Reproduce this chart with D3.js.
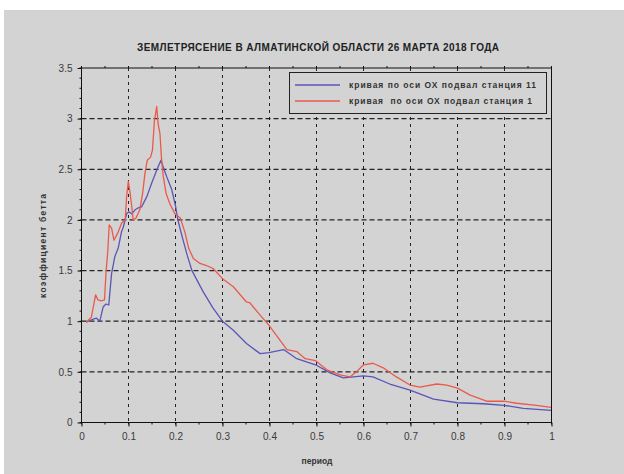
<!DOCTYPE html>
<html>
<head>
<meta charset="utf-8">
<script src="https://cdn.jsdelivr.net/npm/d3@7/dist/d3.min.js"></script>
<style>
  html, body { margin: 0; padding: 0; background: #ffffff; }
  svg { display: block; }
  text { font-family: "Liberation Sans", Arial, sans-serif; }
</style>
</head>
<body>
<svg id="chart" width="624" height="474"></svg>
<script>
// Station 11 (basement, OX axis): period and beta coefficient
const periodStation11 = [0.01,0.025,0.032,0.039,0.046,0.052,0.058,0.064,0.071,0.078,
  0.085,0.089,0.096,0.101,0.107,0.114,0.121,0.128,0.139,0.149,
  0.16,0.169,0.174,0.181,0.192,0.2,0.205,0.215,0.225,0.235,
  0.259,0.28,0.3,0.323,0.351,0.38,0.399,0.43,0.458,0.498,
  0.529,0.557,0.6,0.62,0.656,0.699,0.749,0.8,0.855,0.899,
  0.94,0.999];
const betaStation11 = [0.99,1.02,1.03,1.0,1.14,1.17,1.16,1.47,1.64,1.72,
  1.88,1.93,2.06,2.08,2.06,2.1,2.12,2.13,2.23,2.36,
  2.49,2.59,2.52,2.43,2.3,2.14,2.0,1.82,1.65,1.5,
  1.29,1.13,1.0,0.91,0.78,0.68,0.69,0.72,0.63,0.57,
  0.49,0.44,0.46,0.45,0.38,0.32,0.23,0.195,0.185,0.17,
  0.14,0.12];

// Station 1 (basement, OX axis)
const periodStation1 = [0.01,0.021,0.03,0.035,0.042,0.049,0.052,0.056,0.059,0.064,
  0.069,0.078,0.0855,0.093,0.096,0.0996,0.103,0.107,0.11,0.116,
  0.124,0.13,0.135,0.14,0.147,0.151,0.155,0.16,0.163,0.167,
  0.17,0.174,0.18,0.188,0.199,0.21,0.22,0.228,0.238,0.252,
  0.266,0.28,0.3,0.323,0.351,0.3585,0.38,0.399,0.437,0.458,
  0.476,0.498,0.522,0.55,0.571,0.585,0.6,0.62,0.642,0.67,
  0.699,0.72,0.756,0.777,0.8,0.827,0.862,0.899,0.926,0.968,
  0.999];
const betaStation1 = [0.99,1.04,1.26,1.21,1.2,1.21,1.47,1.7,1.95,1.92,
  1.8,1.88,1.97,2.0,2.23,2.38,2.28,2.13,2.0,2.02,
  2.1,2.26,2.46,2.59,2.62,2.69,2.97,3.12,2.95,2.85,
  2.62,2.43,2.26,2.16,2.06,2.02,1.88,1.72,1.62,1.57,
  1.55,1.52,1.42,1.34,1.19,1.18,1.06,0.96,0.72,0.7,
  0.63,0.61,0.52,0.47,0.45,0.5,0.57,0.585,0.54,0.45,
  0.37,0.35,0.38,0.37,0.34,0.27,0.21,0.21,0.19,0.17,
  0.15];

const xTicks = [0,0.1,0.2,0.3,0.4,0.5,0.6,0.7,0.8,0.9,1];
const yTicks = [0,0.5,1,1.5,2,2.5,3,3.5];
const xTickLabels = ["0","0.1","0.2","0.3","0.4","0.5","0.6","0.7","0.8","0.9","1"];
const yTickLabels = ["0","0.5","1","1.5","2","2.5","3","3.5"];

const titleText = "ЗЕМЛЕТРЯСЕНИЕ В АЛМАТИНСКОЙ ОБЛАСТИ 26 МАРТА 2018 ГОДА";
const xLabel = "период";
const yLabel = "коэффициент бетта";
const seriesNames = ["кривая по оси ОХ подвал станция 11", "кривая  по оси ОХ подвал станция 1"];
const seriesColors = ["#5a55b8", "#ea5a4c"];

const svg = d3.select("#chart");
const W = 624, H = 474;
const plot = { left: 81.5, right: 551.5, top: 68, bottom: 422.5 };
const bg = "#d3d3d3";

svg.append("rect").attr("x", 0).attr("y", 0).attr("width", W).attr("height", H).attr("fill", "#ffffff");
svg.append("rect").attr("x", 4).attr("y", 10).attr("width", W - 4).attr("height", H - 10).attr("fill", bg);

const x = d3.scaleLinear().domain([0, 1]).range([plot.left, plot.right]);
const y = d3.scaleLinear().domain([0, 3.5]).range([plot.bottom, plot.top]);

// grid
const grid = svg.append("g");
grid.selectAll("line.v").data(xTicks.filter(t => t > 0 && t < 1)).join("line")
  .attr("x1", d => x(d)).attr("x2", d => x(d))
  .attr("y1", plot.top).attr("y2", plot.bottom)
  .attr("stroke", "#222").attr("stroke-width", 1).attr("stroke-dasharray", "3,4");
grid.selectAll("line.h").data(yTicks.filter(t => t > 0 && t < 3.5)).join("line")
  .attr("x1", plot.left).attr("x2", plot.right)
  .attr("y1", d => y(d)).attr("y2", d => y(d))
  .attr("stroke", "#222").attr("stroke-width", 1.2).attr("stroke-dasharray", "5,3");

// curves
const line = d3.line().x(d => x(d[0])).y(d => y(d[1]));
const s11 = periodStation11.map((p, i) => [p, betaStation11[i]]);
const s1 = periodStation1.map((p, i) => [p, betaStation1[i]]);
svg.append("path").datum(s11).attr("d", line).attr("fill", "none")
  .attr("stroke", seriesColors[0]).attr("stroke-width", 1.3).attr("stroke-linejoin", "round");
svg.append("path").datum(s1).attr("d", line).attr("fill", "none")
  .attr("stroke", seriesColors[1]).attr("stroke-width", 1.3).attr("stroke-linejoin", "round");

// axes
const xMinor = d3.range(0, 1.0001, 0.05);
const yMinor = d3.range(0, 3.5001, 0.1);
const xAxis = d3.axisBottom(x).tickValues(xTicks).tickFormat((d, i) => xTickLabels[i]).tickSize(4).tickPadding(6);
const yAxis = d3.axisLeft(y).tickValues(yTicks).tickFormat((d, i) => yTickLabels[i]).tickSize(4).tickPadding(5);

const gx = svg.append("g").attr("transform", `translate(0,${plot.bottom})`).call(xAxis);
const gy = svg.append("g").attr("transform", `translate(${plot.left},0)`).call(yAxis);
[gx, gy].forEach(g => {
  g.select(".domain").remove();
  g.selectAll(".tick line").attr("stroke", "#111");
  g.selectAll(".tick text").attr("fill", "#3a3a3a").attr("font-size", 10);
});

svg.append("g").selectAll("line").data(xMinor).join("line")
  .attr("x1", d => x(d)).attr("x2", d => x(d))
  .attr("y1", plot.bottom).attr("y2", plot.bottom + 2).attr("stroke", "#111");
svg.append("g").selectAll("line").data(yMinor).join("line")
  .attr("x1", plot.left - 2).attr("x2", plot.left)
  .attr("y1", d => y(d)).attr("y2", d => y(d)).attr("stroke", "#111");
svg.append("g").selectAll("line").data(xMinor).join("line")
  .attr("x1", d => x(d)).attr("x2", d => x(d))
  .attr("y1", plot.top - 2).attr("y2", plot.top).attr("stroke", "#111");

// frame
svg.append("rect").attr("x", plot.left).attr("y", plot.top)
  .attr("width", plot.right - plot.left).attr("height", plot.bottom - plot.top)
  .attr("fill", "none").attr("stroke", "#111").attr("stroke-width", 1);

// title and axis labels
svg.append("text").attr("x", 318).attr("y", 51).attr("text-anchor", "middle")
  .attr("font-size", 10).attr("font-weight", "bold").attr("fill", "#222")
  .attr("textLength", 362).attr("lengthAdjust", "spacing").text(titleText);
svg.append("text").attr("x", 317).attr("y", 464).attr("text-anchor", "middle")
  .attr("font-size", 8.5).attr("font-weight", "bold").attr("fill", "#333").text(xLabel);
svg.append("text").attr("transform", "translate(46,246) rotate(-90)").attr("text-anchor", "middle")
  .attr("font-size", 8.5).attr("font-weight", "bold").attr("fill", "#333")
  .attr("textLength", 104).attr("lengthAdjust", "spacing").text(yLabel);

// legend
const legendTextWidths = [187, 183];
const lg = svg.append("g");
lg.append("rect").attr("x", 289.5).attr("y", 72.5).attr("width", 257).attr("height", 41)
  .attr("fill", bg).attr("stroke", "#222").attr("stroke-width", 1);
seriesNames.forEach((name, i) => {
  const ly = 85 + i * 16;
  lg.append("line").attr("x1", 295).attr("x2", 340).attr("y1", ly).attr("y2", ly)
    .attr("stroke", seriesColors[i]).attr("stroke-width", 1.3);
  lg.append("text").attr("x", 349).attr("y", ly + 3).attr("font-size", 8.5)
    .attr("font-weight", "bold").attr("fill", "#333")
    .attr("textLength", legendTextWidths[i]).attr("lengthAdjust", "spacing")
    .style("white-space", "pre").text(name);
});
</script>
</body>
</html>
